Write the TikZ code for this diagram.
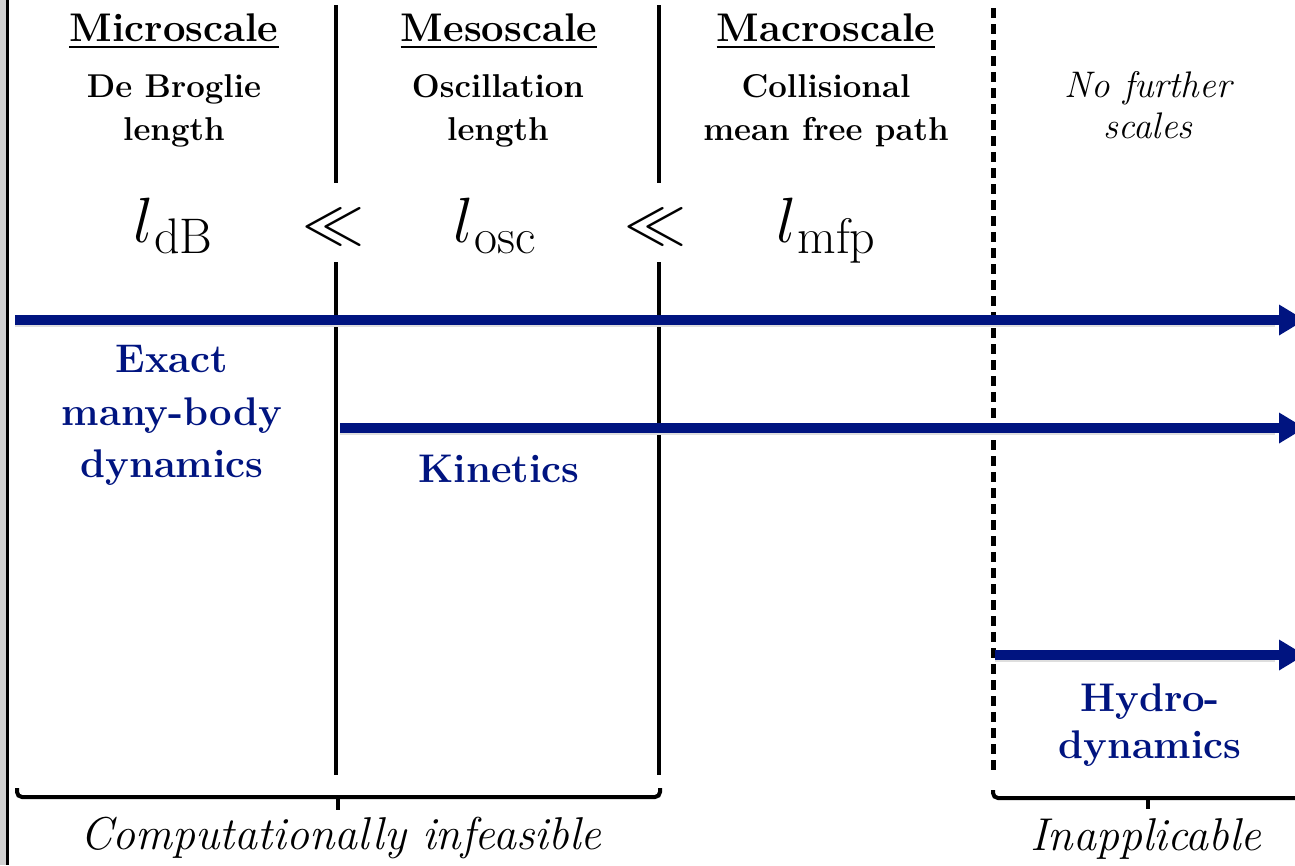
\RequirePackage{fix-cm}
\documentclass[tikz,border=0pt]{standalone}
\usetikzlibrary{arrows.meta}
\definecolor{navy}{RGB}{0,20,128}
\tikzset{
 hdr/.style={font=\fontsize{40}{48}\selectfont\bfseries, inner sep=0pt, anchor=base},
 sub/.style={font=\fontsize{33}{38}\selectfont\bfseries, inner sep=0pt, anchor=base},
 subit/.style={font=\fontsize{37}{42}\selectfont\itshape, inner sep=0pt, anchor=base},
 mth/.style={font=\fontsize{64}{70}\selectfont, inner sep=0pt, anchor=base},
 rel/.style={font=\fontsize{62}{70}\selectfont, inner sep=0pt, anchor=base},
 regime/.style={font=\fontsize{40}{48}\selectfont\bfseries, text=navy, inner sep=0pt, anchor=base},
 verdict/.style={font=\fontsize{46}{52}\selectfont\itshape, inner sep=0pt, anchor=base},
 sep/.style={line width=4.5pt},
 flow/.style={line width=10pt, draw=navy, -{Triangle[length=26pt,width=29pt]}},
 flowshadow/.style={line width=6pt, draw=black!13},
 bracket/.style={line width=4pt, rounded corners=5pt},
 uline/.style={line width=2.4pt},
}
\newcommand{\lsub}[1]{$l$\hspace{1pt}\raisebox{-11pt}{\fontsize{50}{50}\selectfont #1}}
\begin{document}
\begin{tikzpicture}[x=1pt,y=1pt]
\useasboundingbox (0,0) rectangle (1295,-865);
\clip (0,0) rectangle (1295,-865);
\fill[black!18] (0,0) rectangle (6,-865);
\draw[line width=3pt] (7.5,0) -- (7.5,-865);

% separators
\coordinate (s1t) at (336,-5);  \coordinate (s1m) at (336,-183);
\coordinate (s1n) at (336,-262); \coordinate (s1b) at (336,-775);
\coordinate (s2t) at (659,-5);  \coordinate (s2m) at (659,-183);
\coordinate (s2n) at (659,-262); \coordinate (s2b) at (659,-775);
\coordinate (s3t) at (993,-8);  \coordinate (s3b) at (993,-775);
\draw[sep] (s1t) -- (s1m);
\draw[sep] (s1n) -- (s1b);
\draw[sep] (s2t) -- (s2m);
\draw[sep] (s2n) -- (s2b);
\draw[line width=5pt, dash pattern=on 10pt off 6pt] (s3t) -- (s3b);

% arrows
\coordinate (a1s) at (15,-320);  \coordinate (a1e) at (1305,-320);
\coordinate (a2s) at (340,-428); \coordinate (a2e) at (1305,-428);
\coordinate (a3s) at (995,-655); \coordinate (a3e) at (1305,-655);
\draw[flowshadow] ([yshift=-3.5pt]a1s) -- ([yshift=-3.5pt,xshift=-30pt]a1e);
\draw[flowshadow] ([yshift=-3.5pt]a2s) -- ([yshift=-3.5pt,xshift=-30pt]a2e);
\draw[flowshadow] ([yshift=-3.5pt]a3s) -- ([yshift=-3.5pt,xshift=-30pt]a3e);
\draw[flow] (a1s) -- (a1e);
\draw[flow] (a2s) -- (a2e);
\draw[flow] (a3s) -- (a3e);

% headers
\node[hdr] (micro) at (174,-41) {Microscale};
\node[hdr] (meso) at (499,-41) {Mesoscale};
\node[hdr] (macro) at (826,-41) {Macroscale};
\draw[uline] ([yshift=-6pt]micro.base west) -- ([yshift=-6pt]micro.base east);
\draw[uline] ([yshift=-6pt]meso.base west) -- ([yshift=-6pt]meso.base east);
\draw[uline] ([yshift=-6pt]macro.base west) -- ([yshift=-6pt]macro.base east);

\node[sub] (db1) at (174,-97) {De Broglie};
\node[sub] (db2) at (174,-140) {length};
\node[sub] (os1) at (498,-97) {Oscillation};
\node[sub] (os2) at (498,-140) {length};
\node[sub] (mf1) at (826,-97) {Collisional};
\node[sub] (mf2) at (826,-140) {mean free path};
\node[subit] (nf1) at (1148,-97) {No further};
\node[subit] (nf2) at (1148,-138) {scales};

% math
\node[mth] (ldb) at (173,-242) {\lsub{dB}};
\node[rel] (ll1) at (333,-242) {$\ll$};
\node[mth] (losc) at (495,-242) {\lsub{osc}};
\node[rel] (ll2) at (655,-242) {$\ll$};
\node[mth] (lmfp) at (826,-242) {\lsub{mfp}};

% regimes
\node[regime] (ex1) at (172,-372) {Exact};
\node[regime] (ex2) at (172,-425) {many-body};
\node[regime] (ex3) at (172,-477) {dynamics};
\node[regime] (kin) at (499,-482) {Kinetics};
\node[regime] (hy1) at (1150,-711) {Hydro-};
\node[regime] (hy2) at (1150,-758) {dynamics};

% brackets
\coordinate (bL) at (17,-788); \coordinate (bM) at (338,-797);
\coordinate (bT) at (338,-810); \coordinate (bR) at (660,-788);
\draw[bracket] (bL) |- (bM) -| (bR);
\draw[line width=4pt] (bM) -- (bT);
\coordinate (cL) at (993,-790); \coordinate (cM) at (1148,-798);
\coordinate (cT) at (1148,-809); \coordinate (cR) at (1320,-790);
\draw[bracket] (cL) |- (cM) -| (cR);
\draw[line width=4pt] (cM) -- (cT);

\node[verdict] (inf) at (341,-849) {Computationally infeasible};
\node[verdict] (inap) at (1146,-850) {Inapplicable};
\end{tikzpicture}
\end{document}
